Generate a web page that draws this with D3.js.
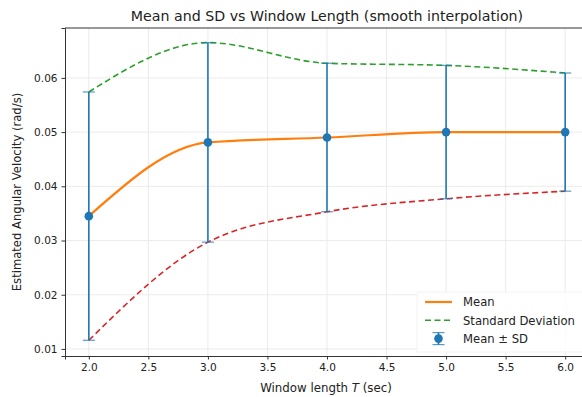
<!DOCTYPE html>
<html>
<head>
<meta charset="utf-8">
<script src="https://cdn.jsdelivr.net/npm/d3@7"></script>
<style>
	body { margin: 0; background: #fff; }
	svg text { font-family: "DejaVu Sans", sans-serif; fill: #222; }
	.axis path, .axis line { stroke: #333; }
	.axis text { font-size: 10.5px; }
	.grid line { stroke: #e6e6e6; stroke-width: 0.8; }
</style>
</head>
<body>
<div id="chart"></div>
<script>
// window lengths (sec)
const windows	= [2, 3, 4, 5, 6];
// mean estimated angular velocity (rad/s)
const means		= [0.0345, 0.0481, 0.0490, 0.0500, 0.0500];
// standard deviation (rad/s)
const sds		= [0.0229, 0.0184, 0.0137, 0.0123, 0.0109];
const xTicks	= [2.0, 2.5, 3.0, 3.5, 4.0, 4.5, 5.0, 5.5, 6.0];
const yTicks	= [0.01, 0.02, 0.03, 0.04, 0.05, 0.06];

let canvasWidth		= 582;
let canvasHeight	= 397;
let margin			= { top: 28, right: -7, bottom: 41, left: 65 };
let width			= canvasWidth - margin.left - margin.right;
let height			= canvasHeight - margin.top - margin.bottom;

let x = d3.scaleLinear().domain([1.8, 6.2]).range([0, width]);
let y = d3.scaleLinear().domain([0.0087, 0.0692]).range([height, 0]);

let rows = windows.map((t, i) => ({ t: t, m: means[i], sd: sds[i] }));

let root = d3.select('#chart').append('svg')
	.attr('width', canvasWidth)
	.attr('height', canvasHeight);

root.append('text')
	.attr('x', margin.left + (x(6.2) - x(1.8)) / 2)
	.attr('y', 21)
	.attr('text-anchor', 'middle')
	.style('font-size', '14.2px')
	.text('Mean and SD vs Window Length (smooth interpolation)');

let svg = root.append('g')
	.attr('transform', 'translate(' + margin.left + ',' + margin.top + ')');

// grid
svg.append('g').attr('class', 'grid')
	.selectAll('line').data(xTicks).enter().append('line')
		.attr('x1', (d) => x(d)).attr('x2', (d) => x(d))
		.attr('y1', 0).attr('y2', height);
svg.append('g').attr('class', 'grid')
	.selectAll('line').data(yTicks).enter().append('line')
		.attr('x1', 0).attr('x2', width)
		.attr('y1', (d) => y(d)).attr('y2', (d) => y(d));

let curve = d3.curveMonotoneX;

let line = (acc) => d3.line().x((o) => x(o.t)).y((o) => y(acc(o))).curve(curve);

svg.append('path').datum(rows)
	.attr('fill', 'none').attr('stroke', '#2ca02c').attr('stroke-width', 1.6)
	.attr('stroke-dasharray', '6,3.5')
	.attr('d', line((o) => o.m + o.sd));

svg.append('path').datum(rows)
	.attr('fill', 'none').attr('stroke', '#d62728').attr('stroke-width', 1.6)
	.attr('stroke-dasharray', '6,3.5')
	.attr('d', line((o) => o.m - o.sd));

svg.append('path').datum(rows)
	.attr('fill', 'none').attr('stroke', '#ff7f0e').attr('stroke-width', 2.2)
	.attr('d', line((o) => o.m));

// error bars
let eb = svg.selectAll('.eb').data(rows).enter().append('g').attr('class', 'eb');
eb.append('line')
	.attr('x1', (o) => x(o.t)).attr('x2', (o) => x(o.t))
	.attr('y1', (o) => y(o.m - o.sd)).attr('y2', (o) => y(o.m + o.sd))
	.attr('stroke', '#1f77b4').attr('stroke-width', 1.6);
[-1, 1].forEach((s) => {
	eb.append('line')
		.attr('x1', (o) => x(o.t) - 6).attr('x2', (o) => x(o.t) + 6)
		.attr('y1', (o) => y(o.m + s * o.sd)).attr('y2', (o) => y(o.m + s * o.sd))
		.attr('stroke', '#1f77b4').attr('stroke-opacity', 0.75).attr('stroke-width', 1.2);
});
eb.append('circle')
	.attr('cx', (o) => x(o.t)).attr('cy', (o) => y(o.m))
	.attr('r', 4.3).attr('fill', '#1f77b4');

// axes
svg.append('g').attr('class', 'axis')
	.attr('transform', 'translate(0,' + height + ')')
	.call(d3.axisBottom(x).tickValues(xTicks).tickFormat(d3.format('.1f')).tickSize(3.5).tickPadding(4));
svg.append('g').attr('class', 'axis')
	.call(d3.axisLeft(y).tickValues(yTicks).tickFormat(d3.format('.2f')).tickSize(3.5).tickPadding(4));
svg.append('line').attr('x1', 0).attr('x2', width).attr('y1', 0).attr('y2', 0)
	.attr('stroke', '#333');
svg.selectAll('.axis .domain').attr('stroke', '#333');

root.append('text')
	.attr('transform', 'translate(21,' + (margin.top + height / 2) + ') rotate(-90)')
	.attr('text-anchor', 'middle')
	.style('font-size', '11.6px')
	.text('Estimated Angular Velocity (rad/s)');

let xl = root.append('text')
	.attr('x', 326).attr('y', 392)
	.attr('text-anchor', 'middle')
	.style('font-size', '11.8px');
xl.append('tspan').text('Window length ');
xl.append('tspan').style('font-style', 'italic').text('T');
xl.append('tspan').text(' (sec)');

// legend
let lg = svg.append('g').attr('transform', 'translate(' + (425 - margin.left) + ',' + (302 - margin.top) + ')');
lg.append('rect').attr('x', -8).attr('y', -10).attr('width', 175).attr('height', 60)
	.attr('fill', '#fff').attr('fill-opacity', 0.85).attr('stroke', '#f4f4f4');
let items = ['Mean', 'Standard Deviation', 'Mean \u00b1 SD'];
items.forEach((name, i) => {
	let gy = i * 18.3;
	if (i === 0) {
		lg.append('line').attr('x1', 0).attr('x2', 27).attr('y1', gy).attr('y2', gy)
			.attr('stroke', '#ff7f0e').attr('stroke-width', 2.2);
	} else if (i === 1) {
		lg.append('line').attr('x1', 0).attr('x2', 27).attr('y1', gy).attr('y2', gy)
			.attr('stroke', '#2ca02c').attr('stroke-width', 1.6).attr('stroke-dasharray', '6,3.5');
	} else {
		lg.append('line').attr('x1', 13.5).attr('x2', 13.5).attr('y1', gy - 6).attr('y2', gy + 6)
			.attr('stroke', '#1f77b4').attr('stroke-width', 1.6);
		[-6, 6].forEach((d) => lg.append('line').attr('x1', 7.5).attr('x2', 19.5)
			.attr('y1', gy + d).attr('y2', gy + d).attr('stroke', '#1f77b4').attr('stroke-opacity', 0.75).attr('stroke-width', 1.2));
		lg.append('circle').attr('cx', 13.5).attr('cy', gy).attr('r', 4.3).attr('fill', '#1f77b4');
	}
	lg.append('text').attr('x', 38).attr('y', gy + 4.3).style('font-size', '11.6px').text(name);
});
</script>
</body>
</html>
